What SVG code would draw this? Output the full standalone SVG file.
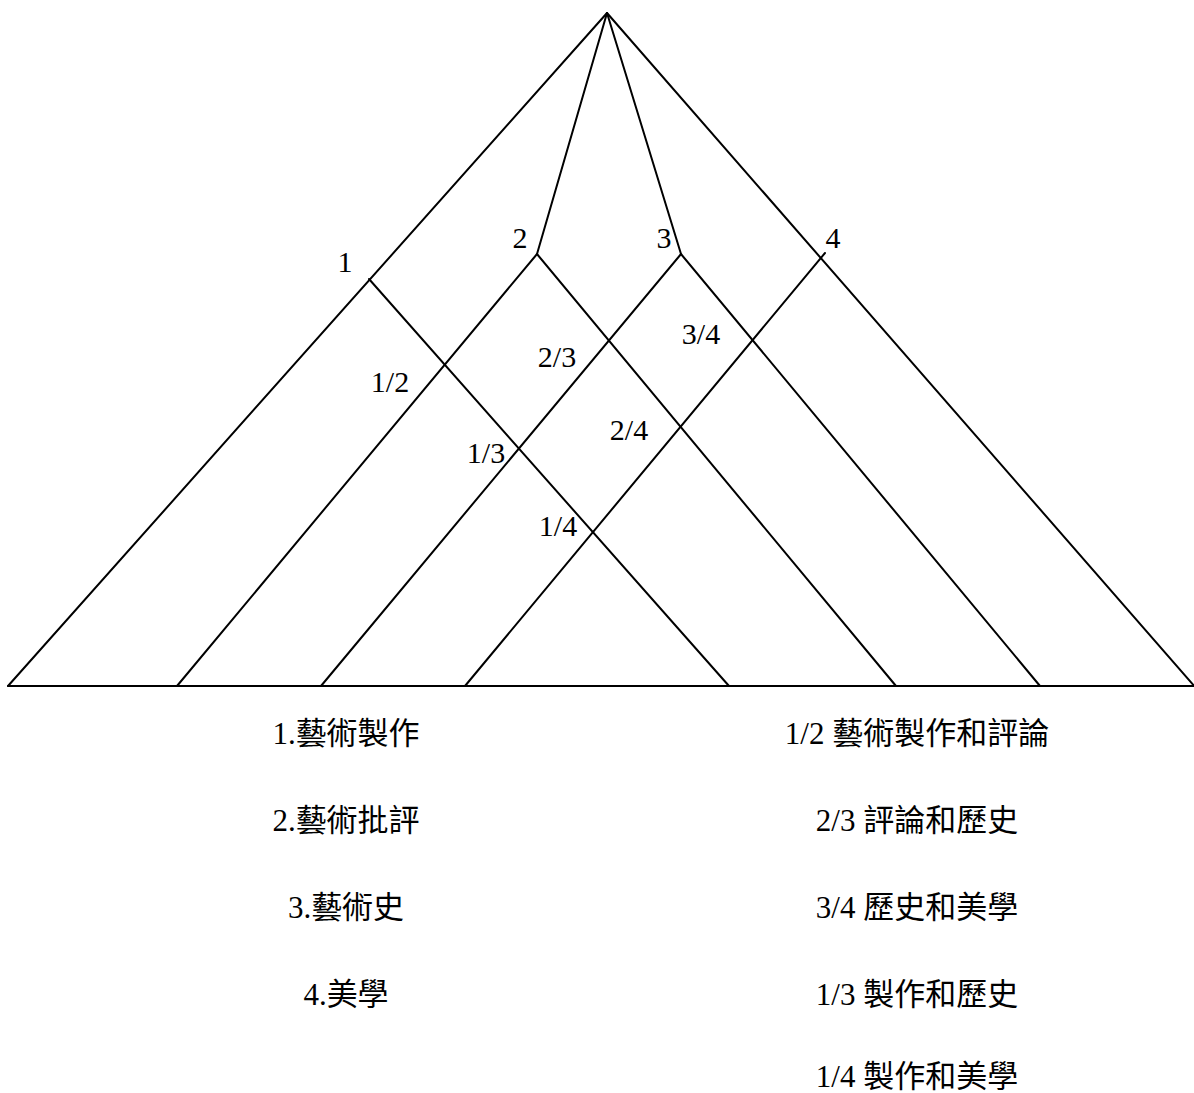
<svg xmlns="http://www.w3.org/2000/svg" width="1194" height="1093" viewBox="0 0 1194 1093">
<style>
.ln{stroke:#000;stroke-width:2;fill:none;stroke-linecap:round;stroke-linejoin:round}
.lb{font-family:"Liberation Serif","Noto Sans CJK TC",serif;font-size:30px;fill:#000;text-anchor:middle}
.lg{font-family:"Liberation Serif","Noto Sans CJK TC",serif;font-size:31px;fill:#000;text-anchor:middle}
</style>
<rect width="1194" height="1093" fill="#fff"/>
<g id="connectors">
<polyline class="ln" points="8,686 607,13 1196,688"/>
<line class="ln" x1="8" y1="686" x2="1194" y2="686"/>
<polyline class="ln" points="607,13 537,254 896,686"/>
<polyline class="ln" points="607,13 681,254 321,686"/>
<line class="ln" x1="537" y1="254" x2="177" y2="686"/>
<line class="ln" x1="681" y1="254" x2="1040" y2="686"/>
<line class="ln" x1="369" y1="279" x2="729" y2="686"/>
<line class="ln" x1="825" y1="253" x2="465" y2="686"/>
</g>
<g id="labels-numbers">
<text id="n1" class="lb" x="345" y="272">1</text>
<text id="n2" class="lb" x="520" y="248">2</text>
<text id="n3" class="lb" x="664" y="248">3</text>
<text id="n4" class="lb" x="833" y="248">4</text>
<text id="n12" class="lb" x="390" y="392">1/2</text>
<text id="n23" class="lb" x="557" y="367">2/3</text>
<text id="n34" class="lb" x="701" y="344">3/4</text>
<text id="n13" class="lb" x="486" y="463">1/3</text>
<text id="n24" class="lb" x="629" y="440">2/4</text>
<text id="n14" class="lb" x="558" y="536">1/4</text>
</g>
<g id="legend-left">
<text class="lg" x="346" y="744">1.藝術製作</text>
<text class="lg" x="346" y="831">2.藝術批評</text>
<text class="lg" x="346" y="918">3.藝術史</text>
<text class="lg" x="346" y="1005">4.美學</text>
</g>
<g id="legend-right">
<text class="lg" x="917" y="744">1/2 藝術製作和評論</text>
<text class="lg" x="917" y="831">2/3 評論和歷史</text>
<text class="lg" x="917" y="918">3/4 歷史和美學</text>
<text class="lg" x="917" y="1005">1/3 製作和歷史</text>
<text class="lg" x="917" y="1087">1/4 製作和美學</text>
</g>
</svg>
